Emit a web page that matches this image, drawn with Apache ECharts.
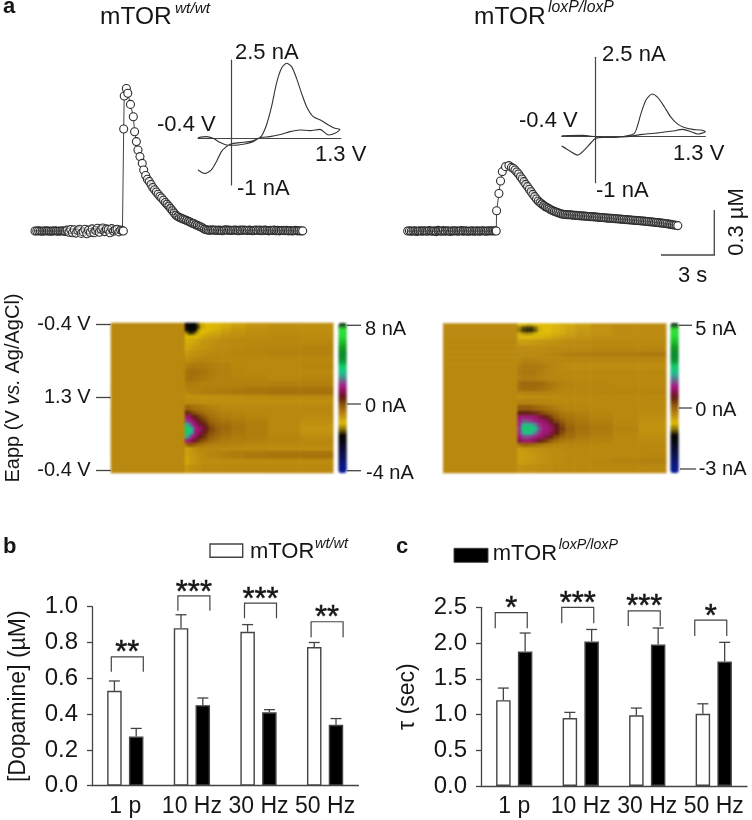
<!DOCTYPE html>
<html>
<head>
<meta charset="UTF-8">
<title>mTOR dopamine release</title>
<style>
    html, body { margin: 0; padding: 0; background: #fff; }
    #heat, #chart { position: absolute; left: 0; top: 0; width: 752px; height: 820px; }
    #heat { filter: blur(1.1px); }
    #chart { filter: blur(0.3px); }
</style>
</head>
<body>
<div id="heat"></div>
<div id="chart"></div>
<script src="https://cdn.jsdelivr.net/npm/echarts@6/dist/echarts.min.js"></script>
<script>
// panel a, dopamine traces: baseline every 0.1 s from 0 s, the rise at read times, tail every 0.1 s
var wtBase = [0,0,.002,0,-.002,0,.002,0,0,-.002,0,.002,0,-.002,0,0,.002,-.003,.006,-.008,.01,-.012,.008,-.014,.004,.012,-.016,-.006,.012,-.018,.006,-.01,.014,-.012,.004,.018,-.008,.012,.02,-.004,.014,.01,-.012,.016,-.002,.008,.012,-.006,.006,.002];
var wtRiseTime = [4.95,4.97,5.0,5.12,5.2,5.35,5.51,5.58,5.68,5.77,5.88,6.01,6.09,6.2];
var wtRise = [0,.68,.9,.95,.918,.844,.762,.662,.596,.54,.496,.451,.407,.37];
var wtTailStart = 6.3;
var wtTail = [.345,.33,.31,.29,.275,.26,.245,.23,.22,.205,.19,.178,.165,.15,.135,.12,.105,.097,.09,.085,.08,.075,.07,.064,.06,.052,.05,.042,.038,.032,.027,.02,.012,.008,
    .006,.004,.008,.005,.007,.003,.006,.004,.002,.006,.008,.004,.006,.003,.005,.007,.004,.002,.006,.004,.007,.005,.003,.006,.004,.002,.005,.007,.003,.006,.002,.004,.006,.003,.001,.005,.003,.006,.002,.004,.001,.003,.005,.002,.004,.001,.003,0,.002,.004,.001,.002,0,.001];

var koBase = [0,.002,-.002,0,.002,-.003,0,.002,-.002,.002,0,-.002,.003,0,-.002,.002,-.004,.004,0,-.002,.003,-.002,.002,0,-.003,.002,0,.002,-.002,0,.003,-.002,.002,0,-.002,0,.002,-.002,0,.002,-.002,0,.002,0,-.002,.002,0,.002,0,.002];
var koRiseTime = [4.95,4.97,5.1,5.19,5.29,5.47,5.66];
var koRise = [0,.135,.25,.333,.396,.429,.436];
var koTailStart = 5.8;
var koTail = [.424,.418,.407,.393,.38,.362,.347,.329,.311,.296,.278,.262,.244,.229,.213,.2,.189,.18,.171,.162,.156,.149,.142,.136,.131,.127,.122,.118,
    .113,.112,.11,.109,.108,.108,.106,.105,.104,.103,.102,.101,.1,.099,.098,.097,.096,.096,.094,.094,.092,.091,.09,.09,.088,.087,.086,.085,.084,.083,.082,.082,.08,.079,.078,.077,.076,.075,.074,.073,.072,.071,.07,.069,.068,.067,.066,.064,.063,.062,.061,.06,.058,.057,.056,.054,.053,.052,.05,.048,.046,.044,.042,.04,.038,.036];

// panel a, voltammograms: [volts, nA]
var wtCv = [[-.4,-1.01],[-.32,-1.12],[-.241,-1.01],[-.181,-.745],[-.121,-.426],[-.062,-.266],[-.01,-.18],[.098,-.138],[.217,-.106],[.297,-.032],[.356,.074],[.416,.426],[.476,1.01],[.535,1.755],[.595,2.234],[.655,2.394],[.715,2.287],[.774,1.915],[.834,1.436],[.894,1.01],[.973,.691],[1.073,.564],[1.153,.426],[1.232,.319],[1.292,.287],
    [1.232,.16],[1.153,.106],[1.053,.287],[.934,.245],[.814,.266],[.695,.213],[.595,.128],[.456,.053],[.336,.02],[.257,-.106],[.157,-.18],[.018,-.223],[-.062,-.213],[-.141,-.128],[-.221,0],[-.3,.053],[-.4,.02]];
var koCv = [[-.4,-.318],[-.309,-.466],[-.21,-.604],[-.132,-.445],[-.053,-.212],[-.002,-.074],[.085,-.042],[.243,-.042],[.361,0],[.46,.085],[.5,.35],[.539,.72],[.598,1.144],[.669,1.335],[.736,1.229],[.815,.932],[.894,.593],[.973,.381],[1.051,.275],[1.15,.212],[1.249,.19],[1.3,.138],
    [1.209,.064],[1.13,.138],[1.032,.212],[.913,.159],[.756,.106],[.558,.053],[.361,-.021],[.164,-.042],[.006,-.021],[-.152,.021],[-.4,.011]];

// panel a, colour plots: row edges along the scan, column edges in seconds, cells in nA
var heatRowEdges = [0,3,6,9,12,16,22,28,34,40,46,52,58,64,68,72,76,82,88,92,96,100,104,108,112,116,120,124,128,132,136,142,150];
var wtHeatEdges = [0,5,5.2,5.4,5.6,5.8,6,6.2,6.4,6.6,7,7.4,8.1,9.1,10.6,12.8,15];
var wtPreStim = .7;
var wtHeat = [
    [-1,-1,-1,-1,-.6,-.1,-.1,0,.05,.1,.2,.35,.5,.6,.6],
    [-1,-1,-1,-1,-.8,-.2,-.1,0,.05,.1,.25,.4,.55,.6,.6],
    [-.9,-1,-1,-1,-.4,0,0,.05,.1,.2,.35,.5,.6,.65,.6],
    [-.3,-.8,-.8,-.5,-.05,.05,.1,.15,.25,.3,.45,.55,.6,.65,.65],
    [0,-.05,-.05,0,.1,.2,.3,.35,.4,.45,.55,.6,.65,.7,.65],
    [.2,.2,.25,.3,.35,.45,.5,.5,.55,.6,.65,.7,.7,.7,.7],
    [.25,.35,.4,.45,.5,.5,.55,.55,.6,.65,.65,.7,.75,.75,.78],
    [.45,.5,.55,.55,.6,.6,.65,.65,.7,.7,.7,.75,.75,.78,.78],
    [.6,.65,.7,.7,.75,.75,.75,.75,.75,.75,.7,.7,.7,.7,.7],
    [.8,.85,.9,.9,.9,.9,.9,.85,.85,.8,.8,.7,.7,.7,.75],
    [1,1.05,1.1,1.1,1.05,1,1,.95,.9,.85,.8,.75,.7,.7,.7],
    [1,1.05,1.05,1,1,.95,.95,.9,.85,.8,.8,.75,.75,.7,.75],
    [.85,.9,.9,.85,.85,.8,.8,.8,.8,.8,.8,.8,.8,.82,.82],
    [.75,.8,.8,.82,.82,.82,.82,.85,.85,.85,.88,.9,.95,.98,1],
    [.7,.75,.8,.82,.82,.85,.85,.88,.88,.9,.9,.95,1,1.03,1.05],
    [.55,.55,.55,.55,.55,.55,.55,.55,.55,.6,.6,.6,.65,.7,.7],
    [.65,.65,.65,.65,.65,.6,.6,.6,.6,.6,.6,.6,.6,.6,.6],
    [1.2,1.2,1.1,1.05,1,.95,.9,.85,.8,.75,.7,.7,.7,.7,.7],
    [1.9,1.8,1.6,1.45,1.3,1.2,1.1,1,.95,.9,.8,.75,.7,.7,.7],
    [2.8,2.7,2.3,2,1.8,1.6,1.4,1.25,1.05,.95,.85,.8,.75,.7,.65],
    [3.2,3,2.8,2.4,2.1,1.9,1.7,1.5,1.2,1.05,.95,.9,.8,.7,.6],
    [3.9,3.7,3.1,2.8,2.5,2.2,2,1.8,1.4,1.2,1.1,.95,.85,.7,.55],
    [4.5,4.3,3.9,3,2.8,2.6,2.3,2,1.6,1.3,1.15,1,.85,.7,.5],
    [4.5,4.2,3.8,2.9,2.7,2.4,2.1,1.8,1.5,1.25,1.1,.95,.85,.7,.55],
    [3.9,3.5,3,2.7,2.3,2,1.8,1.6,1.3,1.15,1,.9,.85,.75,.65],
    [2.9,2.8,2.5,2.1,1.8,1.6,1.4,1.3,1.1,1,.9,.85,.8,.75,.7],
    [1.1,1.5,1.4,1.2,1.1,1,.95,.9,.85,.8,.8,.75,.7,.7,.7],
    [.3,.4,.5,.6,.65,.7,.7,.7,.7,.7,.65,.65,.65,.6,.6],
    [.35,.45,.5,.55,.6,.65,.7,.72,.75,.78,.82,.88,.92,.96,.98],
    [.3,.4,.45,.5,.55,.6,.65,.7,.72,.75,.82,.88,.95,1,1.02],
    [.25,.35,.45,.5,.55,.6,.6,.65,.65,.65,.65,.65,.65,.65,.65],
    [.45,.55,.6,.6,.65,.65,.7,.7,.7,.7,.7,.7,.7,.7,.7]
];
var koHeatEdges = [0,5,5.27,5.54,5.81,6.08,6.35,6.62,6.89,7.16,7.43,7.83,8.23,8.9,9.91,11.4,13.2,15];
var koPreStim = .13;
var koHeat = [
    [-.3,-.35,-.4,-.4,-.35,-.33,-.3,-.3,-.3,-.25,-.2,-.15,-.05,.05,.1,.1],
    [-.6,-.8,-.85,-.85,-.7,-.4,-.33,-.33,-.3,-.25,-.2,-.12,-.03,.05,.1,.1],
    [-.65,-.85,-.9,-.9,-.75,-.4,-.33,-.33,-.3,-.25,-.18,-.1,-.02,.05,.1,.12],
    [-.4,-.5,-.55,-.5,-.38,-.33,-.3,-.3,-.25,-.2,-.15,-.08,0,.05,.1,.12],
    [-.25,-.3,-.3,-.3,-.28,-.25,-.22,-.2,-.15,-.1,-.05,0,.05,.08,.1,.12],
    [-.05,-.05,-.05,-.03,0,0,.02,.02,.05,.05,.08,.1,.12,.13,.13,.13],
    [.1,.1,.1,.1,.1,.1,.1,.1,.12,.12,.12,.13,.13,.15,.15,.15],
    [.13,.13,.13,.13,.13,.13,.13,.15,.15,.17,.2,.22,.24,.26,.26,.28],
    [.15,.2,.2,.2,.2,.18,.15,.15,.15,.15,.15,.15,.15,.15,.15,.15],
    [.25,.3,.3,.3,.3,.28,.25,.2,.18,.15,.13,.1,.1,.1,.1,.1],
    [.28,.3,.3,.3,.3,.25,.22,.2,.18,.15,.13,.13,.13,.13,.13,.13],
    [.25,.27,.27,.27,.25,.22,.2,.18,.16,.15,.15,.13,.13,.13,.13,.13],
    [.4,.45,.45,.45,.45,.43,.4,.35,.3,.25,.2,.17,.15,.15,.13,.13],
    [.38,.42,.42,.42,.42,.4,.35,.32,.28,.22,.18,.15,.15,.15,.15,.15],
    [.2,.2,.2,.2,.2,.2,.2,.2,.18,.15,.15,.15,.15,.15,.15,.15],
    [.05,.08,.08,.08,.08,.1,.1,.1,.1,.1,.12,.12,.12,.12,.12,.12],
    [.2,.2,.2,.2,.18,.18,.18,.15,.15,.13,.13,.13,.13,.13,.13,.13],
    [.6,.6,.6,.55,.5,.45,.4,.35,.3,.25,.2,.15,.15,.13,.13,.13],
    [1,1,1,.95,.9,.8,.7,.6,.5,.4,.3,.25,.2,.15,.13,.1],
    [1.5,1.6,1.55,1.5,1.45,1.3,1.1,.95,.75,.55,.4,.3,.25,.18,.13,.08],
    [1.6,1.85,1.85,1.75,1.6,1.5,1.45,1.3,1,.75,.55,.38,.28,.2,.13,.05],
    [1.7,2.27,2.3,2.27,2.1,1.7,1.55,1.5,1.3,1,.7,.45,.33,.25,.15,.03],
    [1.8,2.6,2.7,2.6,2.3,1.9,1.6,1.55,1.45,1.1,.8,.5,.35,.27,.17,.03],
    [1.7,2.3,2.4,2.3,2.05,1.7,1.55,1.5,1.3,1,.7,.45,.33,.25,.15,.05],
    [1.55,1.8,1.85,1.75,1.6,1.5,1.4,1.2,.95,.7,.5,.38,.28,.2,.13,.08],
    [1.3,1.5,1.5,1.45,1.3,1.1,.9,.75,.55,.4,.3,.25,.2,.17,.13,.1],
    [.35,.5,.5,.45,.4,.35,.3,.25,.2,.17,.15,.15,.15,.13,.13,.13],
    [-.05,0,.02,.05,.05,.08,.08,.1,.1,.1,.13,.13,.13,.13,.13,.13],
    [-.05,-.05,-.03,0,.02,.03,.05,.07,.08,.1,.1,.13,.13,.13,.13,.13],
    [-.08,-.08,-.05,-.03,0,.02,.05,.05,.08,.1,.1,.13,.13,.13,.13,.15],
    [-.05,-.05,-.03,0,.02,.03,.05,.07,.08,.1,.1,.13,.13,.15,.18,.2],
    [.05,.05,.07,.08,.08,.1,.1,.1,.1,.13,.13,.13,.13,.13,.13,.13]
];
var heatColors = ['#0a1a9a','#0a1884','#0a166c','#0a1048','#0a0a34','#06060f','#050505','#8a7204','#e0bc04','#c49510','#a8740c','#8a5208','#602010','#8a1050','#a8208a','#5a7a8a','#20c090','#14cc68','#0c9438','#0a8a30','#109a20','#1cc02a','#2cdc38','#30e038','#0a0a0a'];
var heatTicks = ['-0.4 V', '1.3 V', '-0.4 V'];

// panels b and c
var stimuli = ['1 p', '10 Hz', '30 Hz', '50 Hz'];
var dopamineWt = [.53, .88, .86, .775];
var dopamineWtErr = [.585, .955, .90, .80];
var dopamineKo = [.275, .45, .41, .34];
var dopamineKoErr = [.32, .49, .425, .375];
var dopamineBracket = [.72, 1.06, 1.02, .916];
var dopamineBracketFoot = [.637, .978, .935, .829];
var dopamineStars = ['**', '***', '***', '**'];

var tauWt = [1.2, .95, .99, 1.01];
var tauWtErr = [1.37, 1.03, 1.09, 1.15];
var tauKo = [1.88, 2.02, 1.98, 1.74];
var tauKoErr = [2.14, 2.19, 2.21, 2.01];
var tauBracket = [2.425, 2.5, 2.45, 2.32];
var tauBracketFoot = [2.206, 2.276, 2.24, 2.10];
var tauStars = ['*', '***', '***', '*'];

var fontName = '"Liberation Sans", Arial, sans-serif';
var inkColor = '#161616';
var lineColor = '#444';

// rise circles stay white, packed circles get a thin fill so they add up to a dark band
function buildTrace(base, riseTime, rise, tailStart, tail) {
    var points = [];
    function push(t, v, fill) {
        points.push({value: [t, v], itemStyle: {color: fill}});
    }
    base.forEach(function (v, i) { push(i * 0.1, v, Math.abs(v) > 0.005 ? 'rgba(255,255,255,0.5)' : 'rgba(255,255,255,0.08)'); });
    rise.forEach(function (v, i) { push(riseTime[i], v, '#fff'); });
    tail.forEach(function (v, i) { push(tailStart + i * 0.1, v, v > 0.2 ? 'rgba(255,255,255,0.45)' : 'rgba(255,255,255,0.1)'); });
    points[points.length - 1].itemStyle.color = '#fff';
    return points;
}

function traceSeries(index, points) {
    return {
        type: 'line', xAxisIndex: index, yAxisIndex: index, data: points,
        symbol: 'circle', symbolSize: 8, showAllSymbol: true, clip: false,
        lineStyle: {color: lineColor, width: 1},
        itemStyle: {color: '#fff', borderColor: '#2e2e2e', borderWidth: 1.1}
    };
}

function cvSeries(index, points) {
    return {
        type: 'line', xAxisIndex: index, yAxisIndex: index, data: points,
        symbol: 'none', smooth: 0.25, clip: false,
        lineStyle: {color: '#333', width: 1.1}
    };
}

function hiddenAxis(min, max) {
    return {type: 'value', min: min, max: max, show: false};
}

function cvAxis(gridIndex, min, max) {
    return {
        type: 'value', gridIndex: gridIndex, min: min, max: max,
        axisLine: {show: true, onZero: true, lineStyle: {color: lineColor, width: 1.2}},
        axisTick: {show: false}, axisLabel: {show: false}, splitLine: {show: false}
    };
}

function errorSeries(axisIndex, means, tops, shift) {
    return {
        type: 'custom', xAxisIndex: axisIndex, yAxisIndex: axisIndex, z: 3,
        data: means.map(function (m, i) { return [i, m, tops[i]]; }),
        encode: {x: 0, y: 2},
        renderItem: function (params, api) {
            var bottom = api.coord([api.value(0), api.value(1)]);
            var top = api.coord([api.value(0), api.value(2)]);
            var x = bottom[0] + shift;
            var style = {stroke: lineColor, lineWidth: 1.3, fill: null};
            return {type: 'group', children: [
                {type: 'line', shape: {x1: x, y1: bottom[1], x2: x, y2: top[1]}, style: style},
                {type: 'line', shape: {x1: x - 5.5, y1: top[1], x2: x + 5.5, y2: top[1]}, style: style}
            ]};
        }
    };
}

function bracketSeries(axisIndex, tops, feet, stars, left, right) {
    return {
        type: 'custom', xAxisIndex: axisIndex, yAxisIndex: axisIndex, z: 4,
        data: tops.map(function (t, i) { return [i, t, feet[i]]; }),
        encode: {x: 0, y: 1},
        renderItem: function (params, api) {
            var i = api.value(0);
            var top = api.coord([i, api.value(1)]);
            var foot = api.coord([i, api.value(2)]);
            var x1 = top[0] + left, x2 = top[0] + right;
            return {type: 'group', children: [
                {type: 'polyline', shape: {points: [[x1, foot[1]], [x1, top[1]], [x2, top[1]], [x2, foot[1]]]},
                    style: {stroke: lineColor, lineWidth: 1.2, fill: null}},
                {type: 'text', style: {text: stars[i], x: (x1 + x2) / 2, y: top[1] - 3,
                    font: '31px ' + fontName, fill: inkColor, stroke: inkColor, lineWidth: 0.5,
                    textAlign: 'center', verticalAlign: 'middle'}}
            ]};
        }
    };
}

function barAxisX(gridIndex) {
    return {
        type: 'category', gridIndex: gridIndex, data: stimuli,
        axisLine: {lineStyle: {color: lineColor, width: 1.3}},
        axisTick: {show: false},
        axisLabel: {interval: 0, margin: 9, fontSize: 23, fontFamily: fontName, color: inkColor}
    };
}

function barAxisY(gridIndex, max, interval, name, digits) {
    return {
        type: 'value', gridIndex: gridIndex, min: 0, max: max, interval: interval,
        name: name, nameLocation: 'middle', nameRotate: 90, nameGap: 62,
        nameTextStyle: {fontSize: 23, fontFamily: fontName, color: inkColor},
        axisLine: {show: true, lineStyle: {color: lineColor, width: 1.3}},
        axisTick: {show: true, length: 5, lineStyle: {color: lineColor, width: 1.3}},
        axisLabel: {margin: 14, fontSize: 24, fontFamily: fontName, color: inkColor,
            formatter: function (v) { return v.toFixed(digits); }},
        splitLine: {show: false}
    };
}

function barSeries(axisIndex, values, fill) {
    return {
        type: 'bar', xAxisIndex: axisIndex, yAxisIndex: axisIndex, data: values,
        barWidth: 14.5, barGap: '50%',
        itemStyle: {color: fill, borderColor: '#444', borderWidth: 1.4}
    };
}

// texts are placed by their baseline
function label(x, baseline, text, size, align, style) {
    return {
        type: 'text', z: 10,
        style: {text: text, x: x, y: baseline - 0.35 * size, textAlign: align || 'left', verticalAlign: 'middle',
            font: (style || '') + ' ' + size + 'px ' + fontName, fill: inkColor}
    };
}

function rule(x1, y1, x2, y2) {
    return {type: 'line', z: 10, shape: {x1: x1, y1: y1, x2: x2, y2: y2}, style: {stroke: lineColor, lineWidth: 1.3}};
}

var graphics = [
    label(3, 15, 'a', 22, 'left', 'bold'),
    label(100, 26, 'mTOR', 24.5),
    label(175, 14, 'wt/wt', 15.4, 'left', 'italic'),
    label(474, 26, 'mTOR', 24.5),
    label(548, 12.7, 'loxP/loxP', 15.8, 'left', 'italic'),

    label(235, 61, '2.5 nA', 22),
    label(157, 133, '-0.4 V', 22),
    label(315, 163, '1.3 V', 22),
    label(237, 197, '-1 nA', 22),
    label(602, 63, '2.5 nA', 22),
    label(519, 129, '-0.4 V', 22),
    label(673, 162, '1.3 V', 22),
    label(596, 199, '-1 nA', 22),

    rule(714.3, 210, 714.3, 255),
    rule(661, 255, 714.9, 255),
    label(678, 284, '3 s', 22),
    {type: 'text', z: 10, x: 737, y: 222, rotation: Math.PI / 2,
        style: {text: '0.3 µM', font: '22px ' + fontName, fill: inkColor, textAlign: 'center', verticalAlign: 'middle'}},

    {type: 'text', z: 10, x: 13, y: 388, rotation: Math.PI / 2,
        style: {text: '{n|Eapp (V }{i|vs.}{n| Ag/AgCl)}', textAlign: 'center', verticalAlign: 'middle',
            rich: {
                n: {fontSize: 20, fontFamily: fontName, fill: inkColor},
                i: {fontSize: 20, fontFamily: fontName, fontStyle: 'italic', fill: inkColor}
            }}},

    rule(347, 325.3, 361, 325.3),
    rule(347, 404, 361, 404),
    rule(347, 470.7, 361, 470.7),
    label(365, 336, '8 nA', 20),
    label(365, 413, '0 nA', 20),
    label(366, 480, '-4 nA', 20),
    rule(679, 325.3, 692, 325.3),
    rule(679, 408, 692, 408),
    rule(680, 469, 696, 469),
    label(695.3, 336, '5 nA', 20),
    label(695.3, 417.7, '0 nA', 20),
    label(698.7, 476.5, '-3 nA', 20),

    label(3, 555, 'b', 22, 'left', 'bold'),
    {type: 'rect', z: 10, shape: {x: 210, y: 544, width: 32.7, height: 13.3}, style: {fill: '#fff', stroke: '#444', lineWidth: 1.4}},
    label(250, 560, 'mTOR', 22),
    label(315, 549.3, 'wt/wt', 14.5, 'left', 'italic'),

    label(396, 555, 'c', 22, 'left', 'bold'),
    {type: 'rect', z: 10, shape: {x: 454, y: 548.3, width: 34, height: 14}, style: {fill: '#000', stroke: '#444', lineWidth: 1}},
    label(492.7, 562, 'mTOR', 22),
    label(558.7, 550, 'loxP/loxP', 14.2, 'left', 'italic')
];

var chart = echarts.init(document.getElementById('chart'), null, {width: 752, height: 820});
chart.setOption({
    animation: false,
    backgroundColor: 'transparent',
    grid: [
        {left: 35, top: 81, width: 267.7, height: 150, outerBoundsMode: 'none'},
        {left: 407.7, top: 81, width: 268.3, height: 150, outerBoundsMode: 'none'},
        {left: 198, top: 60, width: 142.7, height: 125, outerBoundsMode: 'none'},
        {left: 561.7, top: 57.3, width: 143.6, height: 125.4, outerBoundsMode: 'none'},
        {left: 110.7, top: 324, width: 222, height: 146.3, outerBoundsMode: 'none'},
        {left: 92, top: 606.7, width: 266.4, height: 179, outerBoundsMode: 'none'},
        {left: 481, top: 607.3, width: 266, height: 178.7, outerBoundsMode: 'none'}
    ],
    xAxis: [
        hiddenAxis(0, 15),
        Object.assign(hiddenAxis(0, 15), {gridIndex: 1}),
        cvAxis(2, -0.4, 1.3),
        cvAxis(3, -0.4, 1.3),
        Object.assign(hiddenAxis(0, 1), {gridIndex: 4}),
        barAxisX(5),
        barAxisX(6)
    ],
    yAxis: [
        hiddenAxis(0, 1),
        Object.assign(hiddenAxis(0, 1), {gridIndex: 1}),
        cvAxis(2, -1.49, 2.5),
        cvAxis(3, -1.48, 2.5),
        {
            type: 'value', gridIndex: 4, min: 0, max: 2, interval: 1, inverse: true,
            axisLine: {show: false},
            axisTick: {show: true, length: 14.7, lineStyle: {color: lineColor, width: 1.3}},
            axisLabel: {margin: 20, fontSize: 20, fontFamily: fontName, color: inkColor, padding: [5, 0, 0, 0],
                formatter: function (v) { return heatTicks[v]; }},
            splitLine: {show: false}
        },
        barAxisY(5, 1, 0.2, '[Dopamine] (µM)', 1),
        barAxisY(6, 2.5, 0.5, 'τ (sec)', 1)
    ],
    series: [
        traceSeries(0, buildTrace(wtBase, wtRiseTime, wtRise, wtTailStart, wtTail)),
        traceSeries(1, buildTrace(koBase, koRiseTime, koRise, koTailStart, koTail)),
        cvSeries(2, wtCv),
        cvSeries(3, koCv),
        barSeries(5, dopamineWt, '#fff'),
        barSeries(5, dopamineKo, '#000'),
        errorSeries(5, dopamineWt, dopamineWtErr, -10.9),
        errorSeries(5, dopamineKo, dopamineKoErr, 10.9),
        bracketSeries(5, dopamineBracket, dopamineBracketFoot, dopamineStars, -14, 18),
        barSeries(6, tauWt, '#fff'),
        barSeries(6, tauKo, '#000'),
        errorSeries(6, tauWt, tauWtErr, -10.9),
        errorSeries(6, tauKo, tauKoErr, 10.9),
        bracketSeries(6, tauBracket, tauBracketFoot, tauStars, -19, 13)
    ],
    graphic: graphics
});

// colour plots sit in their own softened layer under the main chart
function heatCells(matrix, preStim) {
    var cells = [];
    matrix.forEach(function (row, r) {
        cells.push([0, r, preStim]);
        row.forEach(function (v, c) { cells.push([c + 1, r, v]); });
    });
    return cells;
}

function heatSeries(index, edges, matrix, preStim) {
    return {
        type: 'custom', xAxisIndex: index, yAxisIndex: index,
        data: heatCells(matrix, preStim),
        encode: {x: 0, y: 1},
        renderItem: function (params, api) {
            var c = api.value(0), r = api.value(1);
            var p0 = api.coord([edges[c], heatRowEdges[r]]);
            var p1 = api.coord([edges[c + 1], heatRowEdges[r + 1]]);
            return {type: 'rect', shape: {x: p0[0], y: p0[1], width: p1[0] - p0[0] + 0.5, height: p1[1] - p0[1] + 0.5},
                style: {fill: api.visual('color')}};
        }
    };
}

function colourBar(index, min, max, left) {
    return {
        type: 'continuous', seriesIndex: index, dimension: 2, min: min, max: max,
        inRange: {color: heatColors}, calculable: false, padding: 0,
        left: left, top: 323, itemWidth: 8.5, itemHeight: 150
    };
}

var heat = echarts.init(document.getElementById('heat'), null, {width: 752, height: 820});
heat.setOption({
    animation: false,
    grid: [
        {left: 110.7, top: 322.7, width: 222.3, height: 150},
        {left: 443, top: 323.3, width: 223, height: 149.4}
    ],
    xAxis: [hiddenAxis(0, 15), Object.assign(hiddenAxis(0, 15), {gridIndex: 1})],
    yAxis: [
        Object.assign(hiddenAxis(0, 150), {inverse: true}),
        Object.assign(hiddenAxis(0, 150), {gridIndex: 1, inverse: true})
    ],
    visualMap: [colourBar(0, -4, 8, 338.3), colourBar(1, -3, 5, 670.3)],
    series: [
        heatSeries(0, wtHeatEdges, wtHeat, wtPreStim),
        heatSeries(1, koHeatEdges, koHeat, koPreStim)
    ]
});
</script>
</body>
</html>
